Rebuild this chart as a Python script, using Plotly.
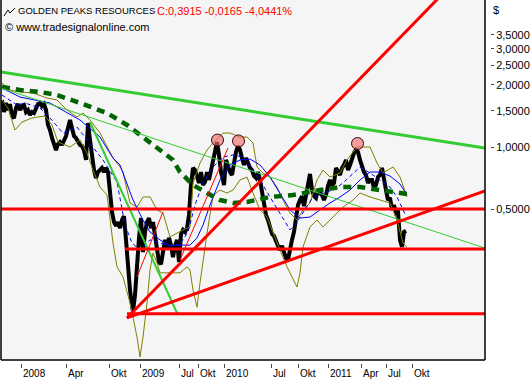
import plotly.graph_objects as go

# ---------------- data (bar index axis, prices in $) ----------------
bar_x = [2,4,6,8,10,12,14,16,18,20,22,24,26,28,30,32,34,36,38,40,42,44,46,48,50,52,54,56,58,60,
         62,64,66,68,70,72,74,76,78,80,82,84,86,88,90,92,94,96,98,100,102,104,106,108,110,
         112,114,116,118,120,122,124,126,128,130,132,133,135,137,139,141,143,145,147,149,151,153,155,157,159,
         161,163,165,167,169,171,173,175,177,179,181,183,185,187,189,191,193,195,197,199,201,203,205,207,209,
         211,213,215,217,219,221,223,224,226,228,230,232,234,236,238,240,242,244,246,248,250,252,254,256,258,
         260,262,264,266,268,270,272,274,276,278,280,282,284,286,288,290,292,294,296,
         298,300,302,304,306,308,310,312,314,316,318,320,322,324,326,328,330,332,334,336,338,340,342,344,346,
         348,350,352,354,356,358,360,362,364,366,368,370,372,374,376,378,380,382,384,386,388,390,392,394,396,
         398,400,402,404,406]
close = [1.691,1.479,1.635,1.512,1.617,1.415,1.383,1.546,1.617,1.512,1.581,1.599,1.479,1.512,1.430,1.479,1.462,1.546,1.617,1.635,
         1.581,1.617,1.512,1.279,1.209,1.106,1.023,0.967,1.034,1.057,1.023,1.081,1.131,1.236,1.352,1.236,1.131,1.106,1.057,1.023,
         1.011,0.967,0.865,1.307,1.081,0.865,0.773,0.707,0.756,0.773,0.791,0.756,0.791,0.756,0.585,
         0.484,0.432,0.414,0.432,0.404,0.442,0.462,0.354,0.259,0.202,0.171,0.158,0.191,0.283,0.362,0.452,0.309,0.387,0.432,0.452,
         0.404,0.432,0.378,0.316,0.276,0.270,0.316,0.354,0.323,0.362,0.334,0.292,0.331,0.354,0.276,0.378,0.396,0.387,0.404,0.468,
         0.654,0.791,0.773,0.707,0.669,0.756,0.654,0.676,0.756,0.692,
         0.773,0.865,0.967,1.057,0.915,0.756,0.692,0.654,0.865,0.791,0.756,0.731,0.865,0.946,1.011,0.967,0.884,0.818,0.884,0.836,
         0.791,0.773,0.723,0.707,0.756,0.692,0.618,0.523,0.468,0.442,0.404,0.378,0.370,0.354,0.331,0.316,0.331,0.309,0.289,0.283,
         0.323,0.354,0.387,0.442,
         0.523,0.553,0.578,0.517,0.578,0.654,0.740,0.618,0.578,0.566,0.618,0.598,0.585,0.553,0.585,0.647,0.692,0.654,0.669,0.791,
         0.756,0.731,0.791,0.818,0.865,0.773,0.818,0.894,0.935,0.967,0.946,0.865,0.791,0.756,0.731,0.669,0.692,0.692,0.632,0.654,
         0.715,0.731,0.791,0.676,0.618,0.553,0.566,0.495,0.523,0.478,0.484,0.354,0.327,0.387,0.3915]

upper_x = [2,10,20,33,47,57,67,77,83,90,100,107,113,120,123,130,137,143,150,157,163,170,177,183,190,193,200,207,213,
           223,230,240,247,253,257,263,270,277,283,290,297,303,310,317,323,330,340,347,357,370,377,383,393,400,407]
upper_band = [2.045,1.891,1.849,1.829,1.729,1.691,1.512,1.398,1.462,1.352,1.169,1.000,0.884,0.800,0.756,0.535,0.511,0.572,
              0.572,0.495,0.478,0.366,0.382,0.396,0.409,0.669,0.836,0.967,1.046,1.169,1.169,1.118,1.118,1.046,0.800,0.748,
              0.715,0.639,0.553,0.478,0.442,0.495,0.535,0.692,0.773,0.715,0.748,0.865,1.000,1.000,0.836,0.748,0.800,0.715,0.572]

lower_x = [2,8,15,22,32,45,52,58,70,80,87,93,100,107,113,117,123,130,137,140,143,147,150,153,157,160,170,180,187,190,
           193,197,200,203,207,213,220,227,233,240,247,253,260,267,273,280,287,293,297,300,303,310,317,323,333,343,353,
           360,370,380,390,397,403,407]
lower_band = [1.691,1.546,1.209,1.322,1.383,1.415,1.279,1.057,1.000,1.081,0.935,0.773,0.639,0.585,0.342,0.262,0.234,0.175,
              0.1196,0.0956,0.1196,0.175,0.253,0.306,0.273,0.245,0.245,0.245,0.262,0.253,0.202,0.167,0.219,0.283,0.380,
              0.580,0.618,0.598,0.618,0.692,0.715,0.598,0.495,0.457,0.382,0.316,0.262,0.226,0.209,0.245,0.327,0.409,0.442,
              0.409,0.457,0.511,0.553,0.598,0.572,0.553,0.535,0.442,0.342,0.327]

ma_slow_x = [2,20,50,80,100,113,120,133,143,150,160,170,180,190,197,203,210,220,230,240,250,260,270,280,290,300,
             310,320,330,340,350,360,370,380,390,400,407]
ma_slow = [1.934,1.748,1.635,1.352,1.118,0.884,0.818,0.553,0.442,0.387,0.354,0.331,0.334,0.334,0.362,0.418,0.523,0.692,
           0.818,0.865,0.874,0.818,0.715,0.598,0.495,0.452,0.457,0.495,0.535,0.572,0.618,0.692,0.756,0.756,0.723,0.661,0.585]

ma_fast_x = [2,17,25,40,50,63,77,90,103,117,125,132,140,150,160,170,180,188,195,203,213,223,233,243,250,260,270,280,
             290,297,303,313,323,333,343,353,360,370,380,390,397,403,406]
ma_fast = [1.788,1.599,1.635,1.546,1.383,1.169,1.250,1.046,0.865,0.676,0.418,0.342,0.316,0.354,0.342,0.331,0.338,0.387,
           0.523,0.669,0.800,0.894,0.915,0.894,0.800,0.692,0.572,0.478,0.396,0.432,0.478,0.572,0.598,0.618,0.669,0.748,
           0.800,0.748,0.692,0.639,0.572,0.495,0.462]

ma_long_x = [2,20,40,57,80,107,127,143,157,173,180,193,207,220,233,247,270,293,320,340,360,380,407]
ma_long = [1.956,1.891,1.849,1.788,1.635,1.462,1.279,1.118,1.000,0.865,0.756,0.654,0.598,0.553,0.535,0.541,0.572,0.585,
           0.618,0.639,0.639,0.618,0.591]

# drawn trendlines: (bar start, bar end), (price start, price end)
trend_green_x, trend_green_y = [1, 485], [2.31, 0.989]
trend_green_thin_x, trend_green_thin_y = [1, 485], [1.934, 0.323]
trend_green_steep_x, trend_green_steep_y = [90, 177], [1.322, 0.1564]
red_h1_x, red_h1_y = [1, 485], [0.5, 0.5]
red_h2_x, red_h2_y = [125, 485], [0.32, 0.32]
red_h3_x, red_h3_y = [127, 485], [0.155, 0.155]
red_up_x, red_up_y = [127, 442], [0.148, 5.5]
red_shallow_x, red_shallow_y = [127, 485], [0.148, 0.612]
red_thin1_x, red_thin1_y = [137, 163], [0.234, 0.484]
red_thin2_x, red_thin2_y = [180, 228], [0.283, 0.989]

peak_x = [217.5, 238.5, 357.5]
peak_y = [1.08, 1.07, 1.04]

x_tick_pos = [21, 66, 109, 140, 179, 198, 224, 271, 298, 328, 361, 386, 412]
x_tick_text = ["2008", "Apr", "Okt", "2009", "Jul", "Okt", "2010", "Jul", "Okt", "2011", "Apr", "Jul", "Okt"]
y_tick_vals = [0.5, 1.0, 1.5, 2.0, 2.5, 3.0, 3.5]

title_name = "GOLDEN PEAKS RESOURCES"
title_quote = "C:0,3915 -0,0165 -4,0441%"
source_text = "© www.tradesignalonline.com"

# ---------------- figure ----------------
W, H = 531, 380
ML, MR, MT, MB = 1, 36, 0, 17
paper_w = W - ML - MR          # 494
paper_h = H - MT - MB          # 363
plot_right = 485
FONT = "Liberation Sans, Arial, sans-serif"

fig = go.Figure()

def line(x, y, color, width, dash=None, name=""):
    fig.add_trace(go.Scatter(x=x, y=y, mode="lines", name=name,
                             line=dict(color=color, width=width, dash=dash),
                             hoverinfo="skip", showlegend=False))

line(bar_x, close, "#000000", 4, name="close")
line(upper_x, upper_band, "#808000", 1, name="upper")
line(lower_x, lower_band, "#808000", 1, name="lower")
line(ma_slow_x, ma_slow, "#0000FF", 1, name="ma slow")
line(ma_fast_x, ma_fast, "#0000FF", 1, dash="4px,3px", name="ma fast")
line(ma_long_x, ma_long, "#006400", 4.5, dash="8px,6px", name="ma long")

line(trend_green_x, trend_green_y, "#33CC33", 3)
line(trend_green_thin_x, trend_green_thin_y, "#33CC33", 1)
line(trend_green_steep_x, trend_green_steep_y, "#33CC33", 2)
for xs, ys in [(red_h1_x, red_h1_y), (red_h2_x, red_h2_y), (red_h3_x, red_h3_y),
               (red_up_x, red_up_y), (red_shallow_x, red_shallow_y)]:
    line(xs, ys, "#FF0000", 3)
line(red_thin1_x, red_thin1_y, "#FF0000", 1)
line(red_thin2_x, red_thin2_y, "#FF0000", 1)

fig.add_trace(go.Scatter(x=peak_x, y=peak_y, mode="markers", hoverinfo="skip", showlegend=False,
                         marker=dict(symbol="circle", size=12, color="rgba(240,110,110,0.65)",
                                     line=dict(color="#400000", width=1))))

def py(p):  # pixel row -> paper fraction
    return (paper_h - (p - MT)) / paper_h

fig.update_layout(
    width=W, height=H,
    margin=dict(l=ML, r=MR, t=MT, b=MB, pad=0, autoexpand=False),
    paper_bgcolor="#FFFFFF", plot_bgcolor="#F5F5F5",
    separators=",.",
    font=dict(family=FONT, size=11, color="#000000"),
    xaxis=dict(domain=[0, (plot_right - ML) / paper_w], range=[1, plot_right], automargin=False,
               anchor="free", position=0, showgrid=False, zeroline=False, showline=False,
               tickmode="array", tickvals=x_tick_pos, showticklabels=False,
               ticks="outside", ticklen=4, tickcolor="#444444", tickwidth=1),
    yaxis=dict(type="log", domain=[3 / paper_h, 1], range=[(147 - 360) / 206, 147 / 206], automargin=False,
               side="right", anchor="free", position=(490 - ML) / paper_w,
               showgrid=False, zeroline=False, showline=False,
               tickmode="array", tickvals=y_tick_vals, tickformat=".4f",
               ticks="outside", ticklen=3, tickcolor="#444444", tickwidth=1,
               tickfont=dict(size=11, family=FONT, color="#000000")),
    showlegend=False,
)

# x tick labels sit to the right of each tick mark
for pos, txt in zip(x_tick_pos, x_tick_text):
    fig.add_annotation(x=pos, y=py(373), xref="x", yref="paper", xanchor="left", yanchor="middle",
                       text=txt, showarrow=False, font=dict(size=10, color="#000000", family=FONT))

# frame of the plot area
xl = 0
xr = (plot_right - ML) / paper_w
yb = 3 / paper_h
for x0, y0, x1, y1 in [(xl, yb, xl, 1), (xr, yb, xr, 1), (xl, yb, xr, yb)]:
    fig.add_shape(type="line", xref="paper", yref="paper", x0=x0, y0=y0, x1=x1, y1=y1,
                  line=dict(color="#000000", width=1.5))

# small chart icon next to title
fig.add_shape(type="path", xref="x", yref="paper",
              path=f"M 4,{py(16)} L 8,{py(10)} L 10,{py(13)} L 15,{py(8)}",
              line=dict(color="#000000", width=1))

fig.add_annotation(x=16, y=py(11), xref="x", yref="paper", xanchor="left", yanchor="middle",
                   text=title_name, showarrow=False, font=dict(size=9.5, color="#000000", family=FONT))
fig.add_annotation(x=155, y=py(11), xref="x", yref="paper", xanchor="left", yanchor="middle",
                   text=title_quote, showarrow=False, font=dict(size=11, color="#FF0000", family=FONT))
fig.add_annotation(x=3, y=py(27), xref="x", yref="paper", xanchor="left", yanchor="middle",
                   text=source_text, showarrow=False, font=dict(size=11, color="#000000", family=FONT))
fig.add_annotation(x=(491 - ML) / paper_w, y=py(10), xref="paper", yref="paper", xanchor="left", yanchor="middle",
                   text="$", showarrow=False, font=dict(size=11, color="#000000", family=FONT))

fig.write_html("out.html", config={"displayModeBar": False})
